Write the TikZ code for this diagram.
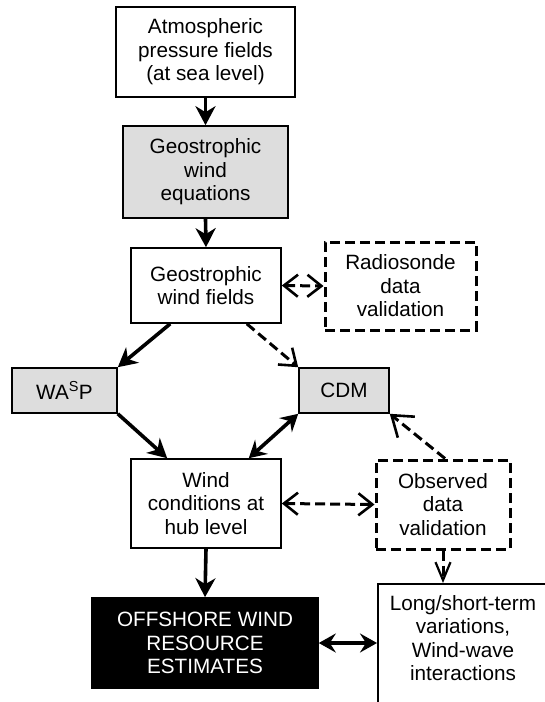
\documentclass[tikz,border=0pt]{standalone}
\usepackage{fontspec}
\setmainfont{Liberation Sans}
\usetikzlibrary{arrows.meta}
\definecolor{boxgrey}{HTML}{DDDDDD}
\begin{document}
\begin{tikzpicture}[x=1pt,y=-1pt,
  every node/.style={font=\fontsize{20.7}{23.5}\selectfont, align=center, inner sep=0pt},
  box/.style={draw=black, line width=1.6pt, fill=white},
  greybox/.style={box, fill=boxgrey},
  dbox/.style={draw=black, line width=3pt, dash pattern=on 10pt off 5pt},
  solidarr/.style={line width=3.6pt, -{Stealth[length=19pt,width=20pt,inset=6pt]}},
  dblarr/.style={line width=3.6pt, {Stealth[length=17pt,width=19pt,inset=6pt]}-{Stealth[length=17pt,width=19pt,inset=6pt]}},
  dasharr/.style={line width=3pt, dash pattern=on 10pt off 5pt, -{Straight Barb[length=15pt,width=22pt,line width=2.6pt]}},
  bigdasharr/.style={line width=3pt, dash pattern=on 10pt off 5pt, -{Straight Barb[length=19pt,width=27pt,line width=2.6pt]}},
  narrowdasharr/.style={line width=3pt, dash pattern=on 10pt off 5pt, -{Straight Barb[length=18pt,width=15pt,line width=2.2pt]}},
  dbldasharr/.style={line width=3pt, dash pattern=on 10pt off 5pt, {Straight Barb[length=14pt,width=22pt,line width=2.6pt]}-{Straight Barb[length=14pt,width=22pt,line width=2.6pt]}}
]
\useasboundingbox (0,0) rectangle (545,702);
\clip (0,0) rectangle (545,702);

\node[box, minimum width=179pt, minimum height=90pt] (atm) at (205.5,52) {Atmospheric\\pressure fields\\(at sea level)};
\node[greybox, minimum width=165pt, minimum height=92pt] (geq) at (205.5,172) {Geostrophic\\wind\\equations};
\node[box, minimum width=150pt, minimum height=75pt] (gwf) at (206,285.5) {Geostrophic\\wind fields};
\node[dbox, minimum width=151pt, minimum height=88pt] (radio) at (400.5,286) {Radiosonde\\data\\validation};
\node[greybox, minimum width=105pt, minimum height=45pt] (wasp) at (64.5,390.5) {WA\textsuperscript{S}P};
\node[greybox, minimum width=90pt, minimum height=45pt] (cdm) at (344,390.5) {CDM};
\node[box, minimum width=150pt, minimum height=89pt] (wind) at (206,503.5) {Wind\\conditions at\\hub level};
\node[dbox, minimum width=134pt, minimum height=89pt] (obs) at (443,504.5) {Observed\\data\\validation};
\node[box, fill=black, text=white, minimum width=226pt, minimum height=90pt] (off) at (205,643) {OFFSHORE WIND\\RESOURCE\\ESTIMATES};
\node[box, minimum width=172pt, minimum height=130pt, anchor=north west] (longbox) at (377,583) {};
\node (longtxt) at (463,638) {Long/short-term\\variations,\\Wind-wave\\interactions};

\draw[solidarr] (atm.south) -- (geq.north);
\draw[solidarr] (geq.south) -- (gwf.north);
\draw[dbldasharr] (gwf.east) -- (radio.west);
\draw[solidarr] ([xshift=40pt]gwf.south west) -- (wasp.north east);
\draw[dasharr] ([xshift=-35pt]gwf.south east) -- (cdm.north west);
\draw[solidarr] (wasp.south east) -- ([xshift=37pt]wind.north west);
\draw[dblarr] (cdm.south west) -- ([xshift=-33pt]wind.north east);
\draw[bigdasharr] ([xshift=2pt]obs.north) -- (cdm.south east);
\draw[dbldasharr] (wind.east) -- (obs.west);
\draw[solidarr] (wind.south) -- (off.north);
\draw[narrowdasharr] (obs.south) -- (obs.south |- longbox.north);
\draw[dblarr] (off.east) -- (off.east -| longbox.west);
\end{tikzpicture}
\end{document}
